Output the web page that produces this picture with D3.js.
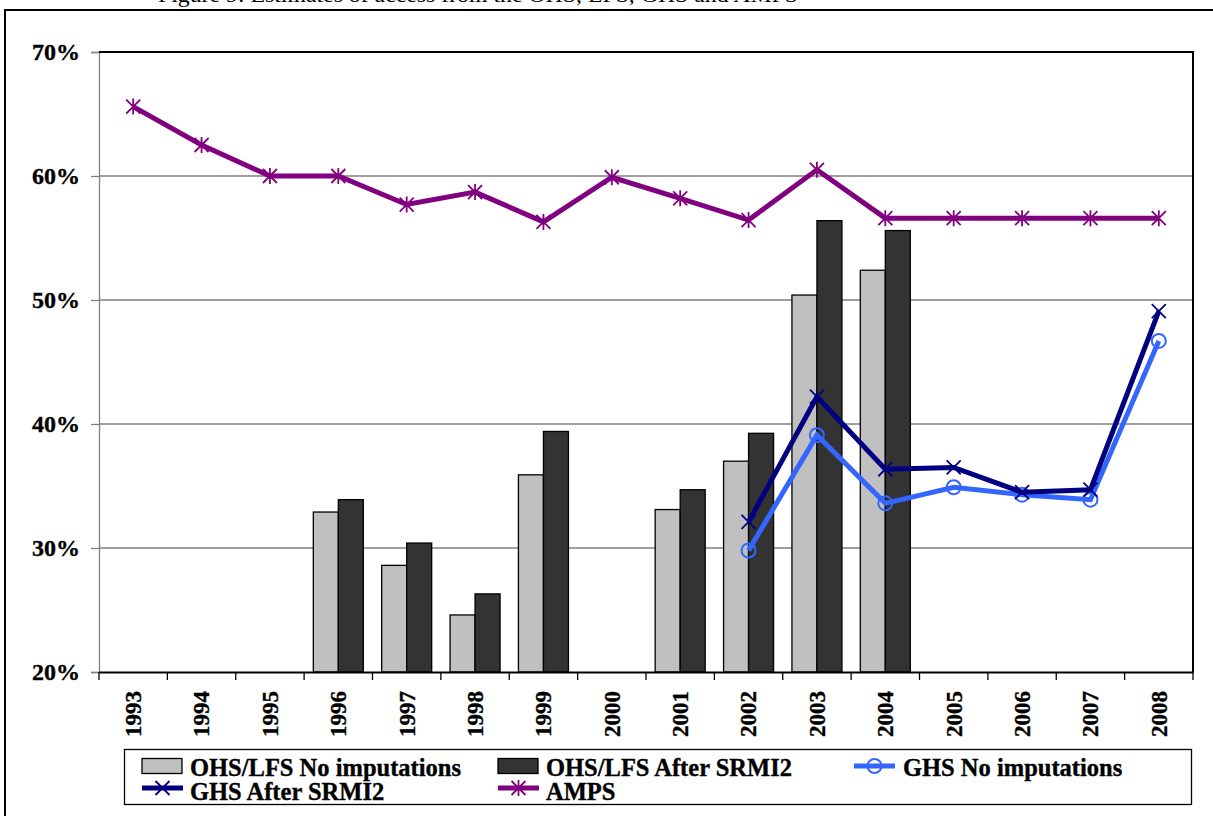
<!DOCTYPE html>
<html>
<head>
<meta charset="utf-8">
<script src="https://cdn.jsdelivr.net/npm/d3@7"></script>
<style>
  html, body { margin: 0; padding: 0; background: #fff; }
  svg { display: block; font-family: "Liberation Serif", "Times New Roman", serif; font-weight: bold; }
  .bt { stroke: #000; stroke-width: 0.35px; }
</style>
</head>
<body>
<svg id="chart" width="1213" height="816"></svg>
<script>
const years = ["1993","1994","1995","1996","1997","1998","1999","2000","2001","2002","2003","2004","2005","2006","2007","2008"];
const yTicks = [0.2, 0.3, 0.4, 0.5, 0.6, 0.7];
const ohsNoImp   = [null,null,null,0.329,0.286,0.246,0.359,null,0.331,0.370,0.504,0.524,null,null,null,null];
const ohsSrmi    = [null,null,null,0.339,0.304,0.263,0.394,null,0.347,0.3925,0.564,0.556,null,null,null,null];
const ghsNoImp   = [null,null,null,null,null,null,null,null,null,0.298,0.391,0.336,0.349,0.343,0.339,0.467];
const ghsSrmi    = [null,null,null,null,null,null,null,null,null,0.321,0.422,0.3635,0.365,0.345,0.347,0.491];
const amps       = [0.656,0.625,0.600,0.600,0.577,0.587,0.563,0.599,0.582,0.5645,0.605,0.566,0.566,0.566,0.566,0.566];
const legendLabels = ["OHS/LFS No imputations","OHS/LFS After SRMI2","GHS No imputations","GHS After SRMI2","AMPS"];
const titleText = "Figure 9: Estimates of access from the OHS, LFS, GHS and AMPS";

const svg = d3.select("#chart");
const L = 99, R = 1193, T = 52, B = 672;

const x = d3.scaleBand().domain(years).range([L, R]).paddingInner(0).paddingOuter(0);
const y = d3.scaleLinear().domain([0.2, 0.7]).range([B, T]);
const xs = d3.scaleBand().domain(["a","b"]).range([0, 50]);

const C = { light: "#C0C0C0", dark: "#333333", navy: "#000080", blue: "#3366FF", purple: "#800080", grid: "#808080" };

// clipped title at very top
svg.append("text").attr("x", 158).attr("y", 2)
  .attr("font-size", 22).attr("font-weight", "normal")
  .attr("textLength", 640).attr("lengthAdjust", "spacingAndGlyphs").text(titleText);

// outer frame
svg.append("rect").attr("x", 5).attr("y", 10).attr("width", 1230).attr("height", 830)
  .attr("fill", "none").attr("stroke", "#000").attr("stroke-width", 2);

// gridlines
svg.append("g").selectAll("line").data(yTicks.filter(d => d > 0.2 && d < 0.7)).join("line")
  .attr("x1", L).attr("x2", R).attr("y1", d => y(d)).attr("y2", d => y(d))
  .attr("stroke", C.grid).attr("stroke-width", 1.3);

// y axis
const yAxis = svg.append("g").attr("transform", `translate(${L},0)`)
  .call(d3.axisLeft(y).tickValues(yTicks).tickFormat(d3.format(".0%")).tickSize(8).tickPadding(11));
yAxis.attr("font-family", null).attr("font-size", null);
yAxis.select(".domain").attr("stroke", C.grid).attr("stroke-width", 1.3);
yAxis.selectAll(".tick line").attr("stroke", C.grid).attr("stroke-width", 1.3);
yAxis.selectAll("text").attr("class", "bt").attr("font-size", 24).attr("fill", "#000");

// plot border top/right
svg.append("line").attr("x1", L).attr("x2", R + 1).attr("y1", T).attr("y2", T).attr("stroke", "#000").attr("stroke-width", 2);
svg.append("line").attr("x1", R).attr("x2", R).attr("y1", T).attr("y2", B).attr("stroke", "#000").attr("stroke-width", 2);

// bars
const barData = [];
years.forEach((yr, i) => {
  if (ohsNoImp[i] != null) barData.push({ yr, k: "a", v: ohsNoImp[i], c: C.light });
  if (ohsSrmi[i] != null) barData.push({ yr, k: "b", v: ohsSrmi[i], c: C.dark });
});
svg.append("g").selectAll("rect").data(barData).join("rect")
  .attr("x", d => x(d.yr) + (x.bandwidth() - 50) / 2 + xs(d.k))
  .attr("width", xs.bandwidth())
  .attr("y", d => y(d.v)).attr("height", d => B - y(d.v))
  .attr("fill", d => d.c).attr("stroke", "#000").attr("stroke-width", 1.3);

// x axis
const xAxis = svg.append("g").attr("transform", `translate(0,${B})`)
  .call(d3.axisBottom(x).tickSize(0).tickFormat(""));
xAxis.select(".domain").attr("stroke", "#000").attr("stroke-width", 2);
svg.append("g").selectAll("line").data(years.concat(["end"])).join("line")
  .attr("x1", d => d === "end" ? R : x(d)).attr("x2", d => d === "end" ? R : x(d))
  .attr("y1", B).attr("y2", B + 8).attr("stroke", "#000").attr("stroke-width", 1.3);
svg.append("g").selectAll("text").data(years).join("text")
  .attr("class", "bt")
  .attr("transform", d => `translate(${x(d) + x.bandwidth() / 2},691) rotate(-90)`)
  .attr("text-anchor", "end").attr("dy", "0.34em").attr("font-size", 23).text(d => d);

// lines
const lineGen = d3.line().defined(d => d.v != null).x(d => x(d.yr) + x.bandwidth() / 2).y(d => y(d.v));
function series(arr) { return years.map((yr, i) => ({ yr, v: arr[i] })); }

function drawMarker(g, type, color, cx, cy) {
  if (type === "circle") {
    g.append("circle").attr("cx", cx).attr("cy", cy).attr("r", 7).attr("fill", "none").attr("stroke", color).attr("stroke-width", 2);
  } else if (type === "x") {
    const s = 7;
    g.append("path").attr("d", `M${cx - s},${cy - s}L${cx + s},${cy + s}M${cx - s},${cy + s}L${cx + s},${cy - s}`)
      .attr("stroke", color).attr("stroke-width", 1.8).attr("fill", "none");
  } else if (type === "star") {
    const s = 7;
    g.append("path").attr("d", `M${cx - s},${cy - s}L${cx + s},${cy + s}M${cx - s},${cy + s}L${cx + s},${cy - s}M${cx},${cy - s - 1}L${cx},${cy + s + 1}`)
      .attr("stroke", color).attr("stroke-width", 1.8).attr("fill", "none");
  }
}

const seriesDefs = [
  { data: ghsNoImp, color: C.blue, marker: "circle" },
  { data: ghsSrmi, color: C.navy, marker: "x" },
  { data: amps, color: C.purple, marker: "star" }
];
seriesDefs.forEach(s => {
  const g = svg.append("g");
  g.append("path").datum(series(s.data)).attr("d", lineGen)
    .attr("fill", "none").attr("stroke", s.color).attr("stroke-width", 5).attr("stroke-linejoin", "miter");
  series(s.data).filter(d => d.v != null).forEach(d => drawMarker(g, s.marker, s.color, x(d.yr) + x.bandwidth() / 2, y(d.v)));
});

// legend
const lg = svg.append("g");
lg.append("rect").attr("x", 124.5).attr("y", 749.5).attr("width", 1067).attr("height", 55)
  .attr("fill", "#fff").attr("stroke", "#000").attr("stroke-width", 1.3);
const legendItems = [
  { label: legendLabels[0], type: "bar", color: C.light, sx: 142, tx: 190, row: 0 },
  { label: legendLabels[1], type: "bar", color: C.dark, sx: 498, tx: 546, row: 0 },
  { label: legendLabels[2], type: "line", color: C.blue, marker: "circle", sx: 854, tx: 903, row: 0 },
  { label: legendLabels[3], type: "line", color: C.navy, marker: "x", sx: 142, tx: 190, row: 1 },
  { label: legendLabels[4], type: "line", color: C.purple, marker: "star", sx: 498, tx: 546, row: 1 }
];
legendItems.forEach(it => {
  const cy = it.row === 0 ? 766 : 788;
  const base = it.row === 0 ? 775.5 : 799.5;
  if (it.type === "bar") {
    lg.append("rect").attr("x", it.sx).attr("y", cy - 7.5).attr("width", 40).attr("height", 15)
      .attr("fill", it.color).attr("stroke", "#000").attr("stroke-width", 1.3);
  } else {
    lg.append("line").attr("x1", it.sx).attr("x2", it.sx + 41).attr("y1", cy).attr("y2", cy)
      .attr("stroke", it.color).attr("stroke-width", 5);
    drawMarker(lg, it.marker, it.color, it.sx + 20.5, cy);
  }
  lg.append("text").attr("class", "bt").attr("x", it.tx).attr("y", base).attr("font-size", 24.5).text(it.label);
});
</script>
</body>
</html>
